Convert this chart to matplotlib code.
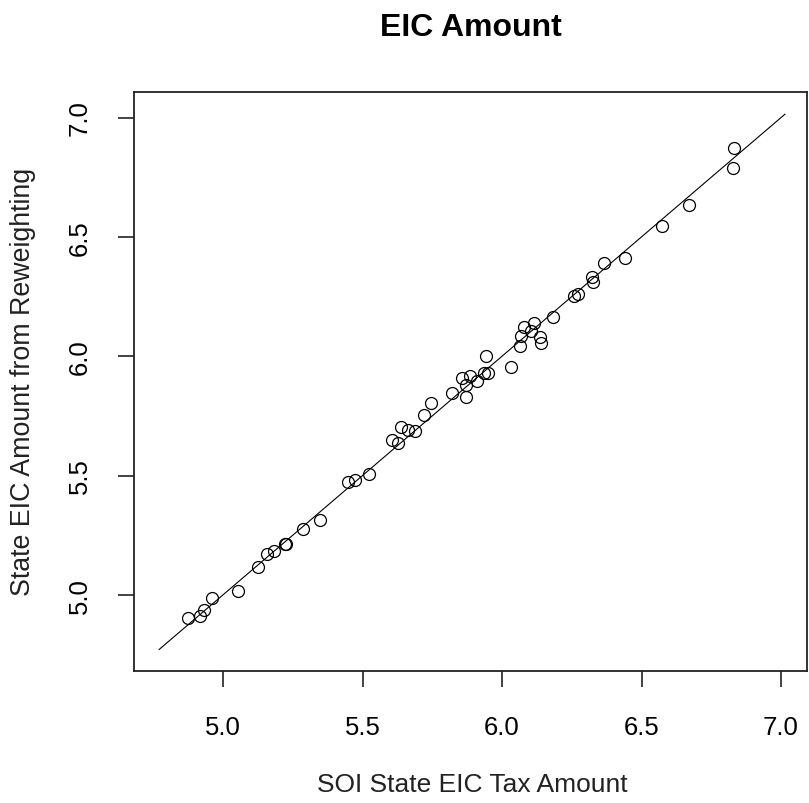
import matplotlib
matplotlib.use("Agg")
import matplotlib.pyplot as plt

plt.rcParams['font.family'] = ['Liberation Sans', 'DejaVu Sans']

soi_x = [4.873, 4.917, 4.932, 4.959, 5.052, 5.126, 5.157, 5.181, 5.227, 5.223,
         5.288, 5.347, 5.449, 5.473, 5.524, 5.606, 5.626, 5.639, 5.663, 5.689,
         5.720, 5.744, 5.820, 5.855, 5.870, 5.872, 5.886, 5.910, 5.942, 5.935,
         5.950, 6.032, 6.064, 6.067, 6.080, 6.104, 6.114, 6.136, 6.138, 6.184,
         6.258, 6.271, 6.322, 6.326, 6.367, 6.440, 6.572, 6.669, 6.826, 6.832]
rew_y = [4.903, 4.912, 4.935, 4.987, 5.015, 5.116, 5.170, 5.183, 5.213, 5.215,
         5.277, 5.312, 5.471, 5.482, 5.505, 5.649, 5.637, 5.703, 5.692, 5.688,
         5.753, 5.802, 5.847, 5.908, 5.828, 5.880, 5.918, 5.897, 6.000, 5.928,
         5.931, 5.953, 6.041, 6.086, 6.123, 6.105, 6.138, 6.080, 6.054, 6.166,
         6.252, 6.262, 6.333, 6.312, 6.391, 6.413, 6.546, 6.632, 6.789, 6.871]
line_range = [4.771, 7.014]
ticks = [5.0, 5.5, 6.0, 6.5, 7.0]
tick_labels = ["5.0", "5.5", "6.0", "6.5", "7.0"]

W, H = 809, 804
fig = plt.figure(figsize=(W / 100, H / 100), dpi=100)
ax = fig.add_axes([134 / W, 1 - 672 / H, (807 - 134) / W, (672 - 93) / H])

ax.plot(line_range, line_range, color='black', lw=0.8)
ax.plot(soi_x, rew_y, linestyle='none', marker='o', markersize=8.6,
        markerfacecolor='none', markeredgecolor='black', markeredgewidth=0.9)

ax.set_xlim(4.681, 7.093)
ax.set_ylim(4.681, 7.107)
ax.set_xticks(ticks)
ax.set_xticklabels(tick_labels)
ax.set_yticks(ticks)
ax.set_yticklabels(tick_labels, rotation=90, va='center', ha='right')
ax.tick_params(axis='both', length=11.5, width=1.2, labelsize=18.5, color='#222222')
ax.tick_params(axis='x', pad=20)
ax.tick_params(axis='y', pad=19)
for s in ax.spines.values():
    s.set_linewidth(1.3)
    s.set_color('#222222')

fig.text(471 / W, 1 - 28 / H, "EIC Amount", ha='center', va='center',
         fontsize=23, fontweight='bold')
fig.text(472 / W, 1 - 785 / H, "SOI State EIC Tax Amount", ha='center',
         va='center', fontsize=19, color='#222222')
fig.text(23 / W, 1 - 382 / H, "State EIC Amount from Reweighting", ha='center',
         va='center', rotation=90, fontsize=19.3, color='#222222')

fig.savefig("out.png", dpi=100)
